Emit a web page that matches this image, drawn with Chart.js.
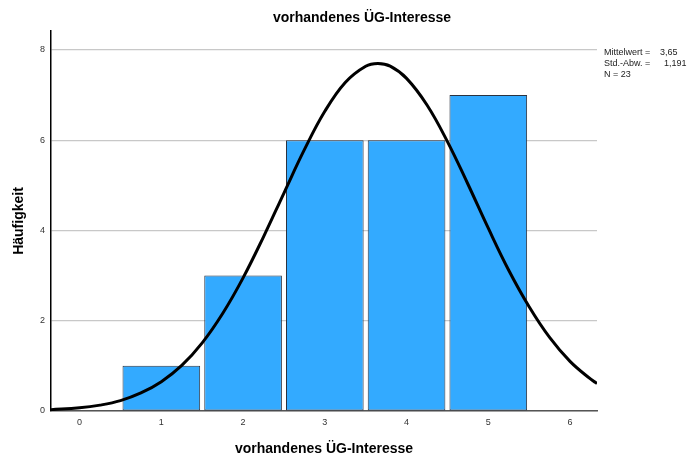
<!DOCTYPE html>
<html>
<head>
<meta charset="utf-8">
<script src="https://cdn.jsdelivr.net/npm/chart.js@4/dist/chart.umd.min.js"></script>
<style>
  html, body { margin: 0; padding: 0; background: #fff; }
  #wrap { position: relative; width: 688px; height: 462px; }
  #stats {
    position: absolute; left: 604px; top: 47px;
    font: 9px "Liberation Sans", Arial, sans-serif; color: #222; line-height: 11px;
  }
  #stats span { display: inline-block; }
</style>
</head>
<body>
<div id="wrap">
  <canvas id="hist" width="688" height="462"></canvas>
  <div id="stats">
    <div><span style="width:56px">Mittelwert =</span><span>3,65</span></div>
    <div><span style="width:56px">Std.-Abw. =</span><span style="padding-left:4px">1,191</span></div>
    <div>N = 23</div>
  </div>
</div>
<script>
// histogram bins and counts
const binCenters = [1, 2, 3, 4, 5];
const counts = [1, 3, 6, 6, 7];

// normal curve overlay
const curveX = [-0.35, 0, 0.25, 0.5, 0.75, 1, 1.25, 1.5, 1.75, 2, 2.25, 2.5, 2.75, 3, 3.25, 3.5, 3.65,
                3.8, 4, 4.25, 4.5, 4.75, 5, 5.25, 5.5, 5.75, 6, 6.25, 6.33];
const curveY = [0.03, 0.07, 0.13, 0.23, 0.40, 0.65, 1.01, 1.51, 2.16, 2.95, 3.86, 4.83, 5.79, 6.64, 7.28, 7.64, 7.70,
                7.64, 7.37, 6.78, 5.97, 5.03, 4.05, 3.12, 2.31, 1.63, 1.10, 0.71, 0.61];

const xTicks = [0, 1, 2, 3, 4, 5, 6];
const yTicks = [0, 2, 4, 6, 8];

const titleText = 'vorhandenes ÜG-Interesse';
const xTitle = 'vorhandenes ÜG-Interesse';
const yTitle = 'Häufigkeit';

const FONT = '"Liberation Sans", Arial, sans-serif';

// chart title sits a bit right of the plot centre
const titlePlugin = {
  id: 'topTitle',
  afterDraw(chart) {
    const ctx = chart.ctx;
    ctx.save();
    ctx.font = 'bold 14px ' + FONT;
    ctx.fillStyle = '#000';
    ctx.textAlign = 'center';
    ctx.textBaseline = 'middle';
    ctx.fillText(titleText, 362, 18);
    ctx.restore();
  }
};

new Chart(document.getElementById('hist'), {
  data: {
    datasets: [
      {
        type: 'line',
        data: curveX.map((x, i) => ({ x: x, y: curveY[i] })),
        borderColor: '#000',
        borderWidth: 3,
        pointRadius: 0,
        tension: 0.4,
        fill: false,
        order: 0
      },
      {
        type: 'bar',
        data: binCenters.map((x, i) => ({ x: x, y: counts[i] })),
        backgroundColor: '#33aaff',
        borderColor: '#2b3340',
        borderWidth: 1,
        borderSkipped: false,
        categoryPercentage: 1,
        barPercentage: 0.95,
        order: 1
      }
    ]
  },
  options: {
    responsive: false,
    animation: false,
    layout: { padding: { left: 7, top: 31, right: 91, bottom: 0 } },
    plugins: { legend: { display: false }, tooltip: { enabled: false } },
    scales: {
      x: {
        type: 'linear',
        offset: false,
        min: -0.35,
        max: 6.33,
        afterFit: s => { s.height = 51; },
        afterBuildTicks: s => { s.ticks = xTicks.map(v => ({ value: v })); },
        grid: { display: false, drawTicks: false },
        border: { display: true, color: '#555', width: 1.5 },
        ticks: { font: { size: 9, family: FONT }, color: '#333', padding: 6 },
        title: { display: true, text: xTitle, font: { size: 14, weight: 'bold', family: FONT }, color: '#000', padding: { top: 10 } }
      },
      y: {
        min: 0,
        max: 8.42,
        afterFit: s => { s.width = 44; },
        afterBuildTicks: s => { s.ticks = yTicks.map(v => ({ value: v })); },
        grid: { color: '#c8c8c8', lineWidth: 1.2, drawTicks: false },
        border: { display: true, color: '#000', width: 1.5 },
        ticks: { font: { size: 9, family: FONT }, color: '#333', padding: 6 },
        title: { display: true, text: yTitle, font: { size: 14, weight: 'bold', family: FONT }, color: '#000', padding: { bottom: 0 } }
      }
    }
  },
  plugins: [titlePlugin]
});
</script>
</body>
</html>
